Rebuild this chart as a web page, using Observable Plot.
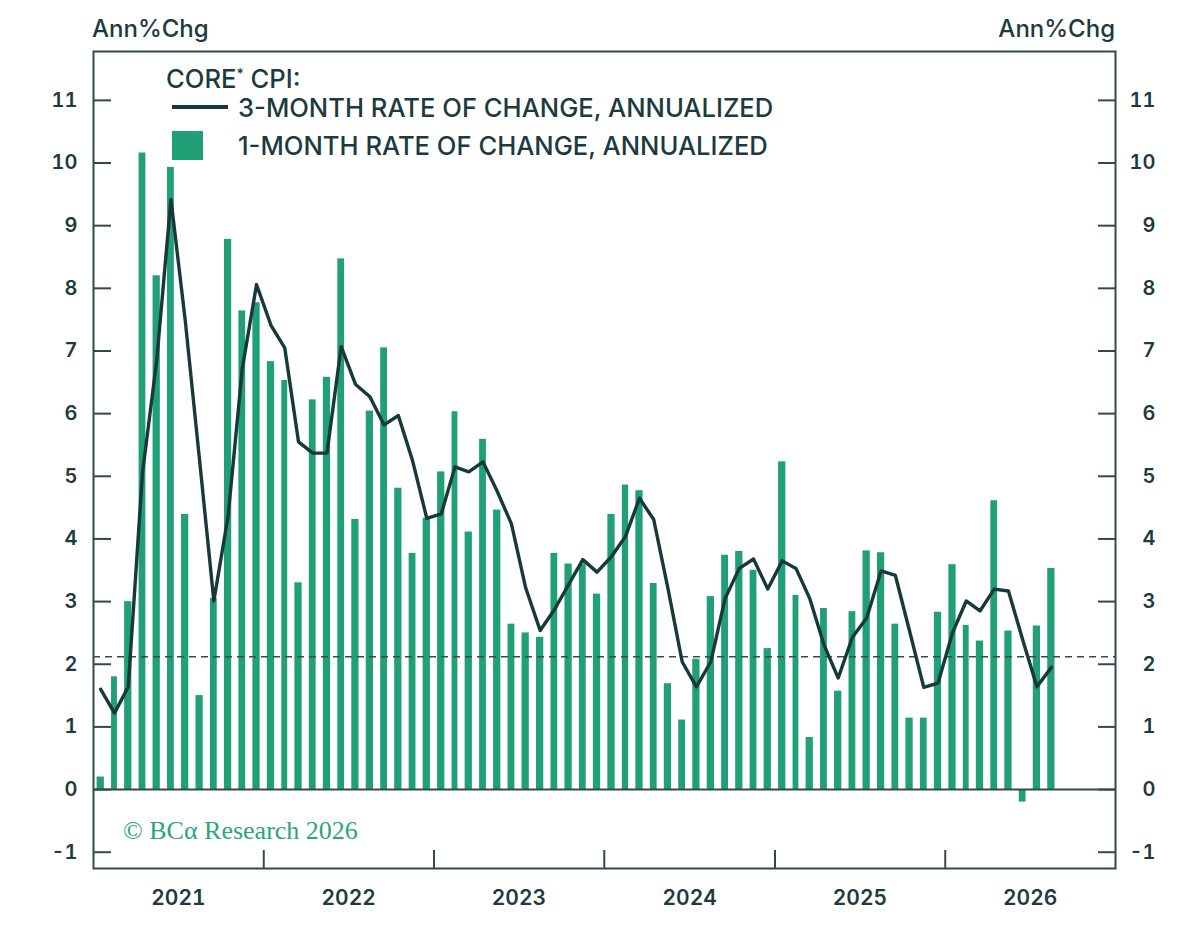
<!DOCTYPE html>
<html><head><meta charset="utf-8">
<script src="https://cdn.jsdelivr.net/npm/d3@7"></script>
<script src="https://cdn.jsdelivr.net/npm/@observablehq/plot@0.6"></script>
<style>
html,body{margin:0;padding:0;background:#fff;}
#wrap{position:relative;width:1200px;height:933px;overflow:hidden;}
#wrap svg{position:absolute;left:0;top:0;}
</style></head><body><div id="wrap"></div>
<script>
// 1-month rate of change, annualized (Jan 2021 .. Aug 2026)
const oneMonth = [
  0.20, 1.80, 3.00, 10.16, 8.20, 9.93, 4.39, 1.50, 3.05, 8.78, 7.64, 7.77,
  6.83, 6.53, 3.30, 6.22, 6.58, 8.47, 4.31, 6.04, 7.05, 4.81, 3.77, 4.33,
  5.07, 6.03, 4.11, 5.59, 4.46, 2.64, 2.50, 2.43, 3.77, 3.60, 3.60, 3.12,
  4.39, 4.86, 4.77, 3.29, 1.69, 1.11, 2.08, 3.08, 3.74, 3.80, 3.50, 2.25,
  5.23, 3.10, 0.83, 2.89, 1.57, 2.84, 3.81, 3.78, 2.64, 1.14, 1.14, 2.83,
  3.59, 2.62, 2.37, 4.61, 2.53, -0.20, 2.61, 3.53
];
// 3-month rate of change, annualized
const threeMonth = [
  1.60, 1.22, 1.64, 5.05, 6.85, 9.42, 7.50, 5.25, 3.01, 4.36, 6.72, 8.06,
  7.41, 7.05, 5.55, 5.37, 5.37, 7.07, 6.47, 6.27, 5.82, 5.97, 5.25, 4.33,
  4.40, 5.15, 5.07, 5.23, 4.76, 4.24, 3.22, 2.54, 2.87, 3.27, 3.67, 3.47,
  3.72, 4.04, 4.65, 4.31, 3.21, 2.04, 1.64, 2.04, 3.05, 3.53, 3.68, 3.20,
  3.65, 3.53, 3.05, 2.31, 1.78, 2.43, 2.74, 3.49, 3.42, 2.53, 1.63, 1.70,
  2.50, 3.01, 2.85, 3.20, 3.17, 2.39, 1.64, 1.95
];
const yearLabels = [2021, 2022, 2023, 2024, 2025, 2026];
const yTicks = [-1, 0, 1, 2, 3, 4, 5, 6, 7, 8, 9, 10, 11];
const targetLevel = 2.12;
const firstMonth = "2021-01-01";

const start = new Date(firstMonth);
const rows = oneMonth.map((v, i) => {
  const s = d3.utcMonth.offset(start, i);
  const e = d3.utcMonth.offset(start, i + 1);
  return {start: s, end: e, mid: new Date((+s + +e) / 2), bar: v, line: threeMonth[i]};
});
const yearStarts = yearLabels.map(y => new Date(Date.UTC(y, 0, 1)));
const yearMids = yearLabels.map(y => new Date(Date.UTC(y, 6, 2)));
const xDomain = [yearStarts[0], new Date(Date.UTC(yearLabels[yearLabels.length - 1] + 1, 0, 1))];

const ink = "#1d3a3e", frameInk = "#34494d", green = "#21a078", lineInk = "#17393a";
const font = "Inter, Lato, 'Open Sans', sans-serif";
const tickStyle = {fontSize: 20, fontWeight: 600, fill: ink, label: null};

const chart = Plot.plot({
  width: 1200, height: 933,
  marginLeft: 93, marginRight: 85, marginTop: 51, marginBottom: 65,
  style: {fontFamily: font, background: "transparent", color: ink, overflow: "visible"},
  x: {type: "utc", domain: xDomain},
  y: {domain: [-1.26, 11.78]},
  marks: [
    Plot.rectY(rows, {x1: "start", x2: "end", y1: 0, y2: "bar", fill: green, insetLeft: 3.6, insetRight: 3.6}),
    Plot.ruleY([targetLevel], {stroke: "#3a4a4d", strokeWidth: 1.6, strokeDasharray: "7,5"}),
    Plot.ruleY([0], {stroke: frameInk, strokeWidth: 2}),
    Plot.line(rows, {x: "mid", y: "line", stroke: lineInk, strokeWidth: 3.4}),
    Plot.frame({stroke: frameInk, strokeWidth: 2}),
    Plot.axisY({anchor: "left", ticks: yTicks, tickSize: -18, tickFormat: () => "", stroke: frameInk, strokeWidth: 2, label: null}),
    Plot.axisY({anchor: "left", ticks: yTicks, tickSize: 0, tickPadding: 16, tickFormat: d => String(d), ...tickStyle}),
    Plot.axisY({anchor: "right", ticks: yTicks, tickSize: -18, tickFormat: () => "", stroke: frameInk, strokeWidth: 2, label: null}),
    Plot.axisY({anchor: "right", ticks: yTicks, tickSize: 0, tickPadding: 40, textAnchor: "end", tickFormat: d => String(d), ...tickStyle}),
    Plot.axisX({anchor: "bottom", ticks: yearStarts.slice(1), tickSize: -18, tickFormat: () => "", stroke: frameInk, strokeWidth: 2, label: null}),
    Plot.axisX({anchor: "bottom", ticks: yearMids, tickSize: 0, tickPadding: 22, tickFormat: d => String(d.getUTCFullYear()), ...tickStyle, fontSize: 21})
  ]
});
document.getElementById("wrap").appendChild(chart);

// Overlay: unit labels, legend, source
const ov = d3.select("#wrap").append("svg")
  .attr("width", 1200).attr("height", 933)
  .style("pointer-events", "none")
  .attr("font-family", font);
ov.append("text").attr("x", 92).attr("y", 37).attr("font-size", 24).attr("font-weight", 500).attr("fill", ink).text("Ann%Chg");
ov.append("text").attr("x", 1115).attr("y", 37).attr("text-anchor", "end").attr("font-size", 24).attr("font-weight", 500).attr("fill", ink).text("Ann%Chg");

const lg = ov.append("g").attr("fill", ink).attr("font-size", 25.6).attr("font-weight", 500);
const t0 = lg.append("text").attr("x", 166).attr("y", 88);
t0.append("tspan").text("CORE");
t0.append("tspan").attr("font-size", 14).attr("dy", -9).text("*");
t0.append("tspan").attr("dy", 9).text(" CPI:");
ov.append("line").attr("x1", 172).attr("x2", 228).attr("y1", 107).attr("y2", 107).attr("stroke", lineInk).attr("stroke-width", 3.8);
lg.append("text").attr("x", 238).attr("y", 117).text("3-MONTH RATE OF CHANGE, ANNUALIZED");
ov.append("rect").attr("x", 172).attr("y", 131).attr("width", 31).attr("height", 29).attr("fill", green);
lg.append("text").attr("x", 238).attr("y", 155).text("1-MONTH RATE OF CHANGE, ANNUALIZED");

ov.append("text").attr("x", 123).attr("y", 839).attr("font-family", "'Liberation Serif', 'DejaVu Serif', serif")
  .attr("font-size", 26).attr("fill", "#2aa57c").text("© BCα Research 2026");
</script></body></html>
